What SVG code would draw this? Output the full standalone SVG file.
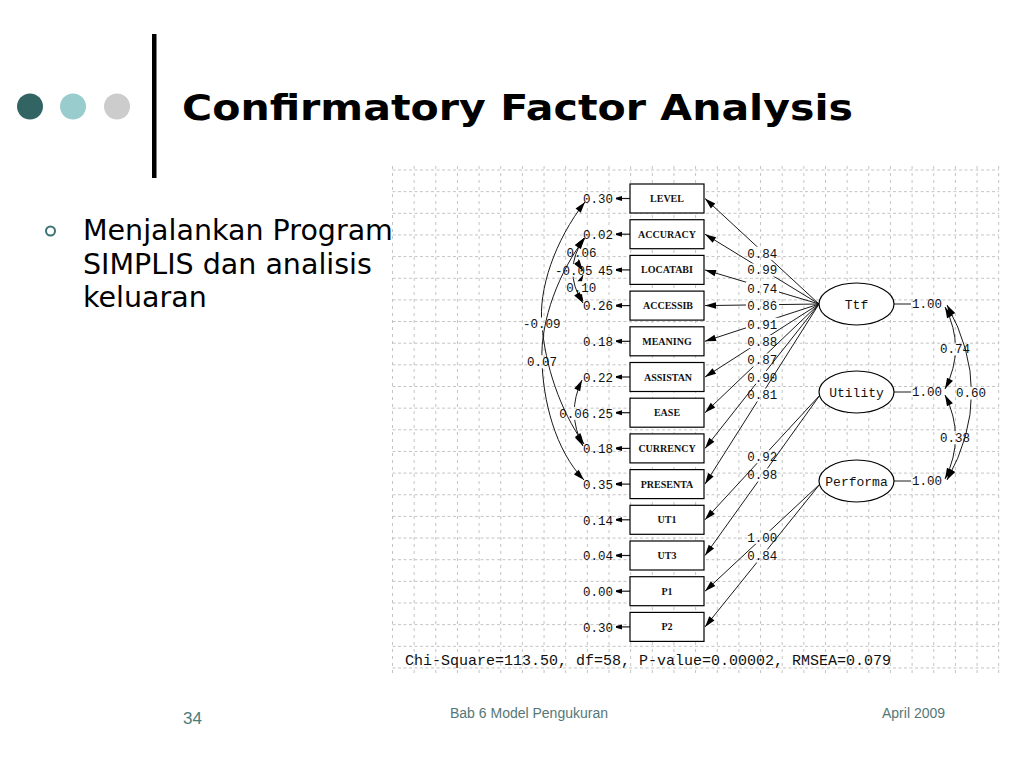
<svg xmlns="http://www.w3.org/2000/svg" xmlns:xlink="http://www.w3.org/1999/xlink" width="1024" height="768" viewBox="0 0 1024 768">
<style>
.gh{stroke:#c4c4c4;stroke-width:1;stroke-dasharray:3 2.5;fill:none}
.gv{stroke:#c4c4c4;stroke-width:1;stroke-dasharray:3 4;fill:none}
.box{fill:#fff;stroke:#000;stroke-width:1.2}
.ell{fill:#fff;stroke:#000;stroke-width:1.2}
.bt{font-family:"Liberation Serif",serif;font-size:10px;font-weight:bold;fill:#111;text-anchor:middle}
.et{font-family:"Liberation Mono",monospace;font-size:13px;fill:#111;text-anchor:middle}
.num{font-family:"Liberation Mono",monospace;font-size:12.5px;fill:#111}
.mid{text-anchor:middle}
.end{text-anchor:end}
.ln{stroke:#1a1a1a;stroke-width:1;fill:none}
.la{stroke:#1a1a1a;stroke-width:1;fill:none;marker-end:url(#ah)}
.cv{stroke:#1a1a1a;stroke-width:1;fill:none;marker-start:url(#ah);marker-end:url(#ah)}
.er{stroke:#1a1a1a;stroke-width:1.2;fill:none;marker-end:url(#as)}
.foot{font-family:"Liberation Sans",Arial,sans-serif;font-size:14px;fill:#557777}
</style>
<defs>
<marker id="ah" markerUnits="userSpaceOnUse" markerWidth="12" markerHeight="8" refX="11" refY="4" orient="auto-start-reverse" overflow="visible"><path d="M0,0.7 L11,4 L0,7.3 z" fill="#000"/></marker>
<marker id="as" markerUnits="userSpaceOnUse" markerWidth="7" markerHeight="6" refX="6" refY="3" orient="auto" overflow="visible"><path d="M0,0.5 L6,2.2 L6,3.8 L0,5.5 z" fill="#000"/></marker>
<rect id="full" width="1024" height="768" fill="#fff"/>
<mask id="mL0" maskUnits="userSpaceOnUse" x="0" y="0" width="1024" height="768"><use href="#full"/><rect x="746" y="246.8" width="33" height="13"/></mask>
<mask id="mL1" maskUnits="userSpaceOnUse" x="0" y="0" width="1024" height="768"><use href="#full"/><rect x="746" y="263.5" width="33" height="13"/></mask>
<mask id="mL2" maskUnits="userSpaceOnUse" x="0" y="0" width="1024" height="768"><use href="#full"/><rect x="746" y="281.8" width="33" height="13"/></mask>
<mask id="mL3" maskUnits="userSpaceOnUse" x="0" y="0" width="1024" height="768"><use href="#full"/><rect x="746" y="299.5" width="33" height="13"/></mask>
<mask id="mL4" maskUnits="userSpaceOnUse" x="0" y="0" width="1024" height="768"><use href="#full"/><rect x="746" y="317.8" width="33" height="13"/></mask>
<mask id="mL5" maskUnits="userSpaceOnUse" x="0" y="0" width="1024" height="768"><use href="#full"/><rect x="746" y="335.2" width="33" height="13"/></mask>
<mask id="mL6" maskUnits="userSpaceOnUse" x="0" y="0" width="1024" height="768"><use href="#full"/><rect x="746" y="353.5" width="33" height="13"/></mask>
<mask id="mL7" maskUnits="userSpaceOnUse" x="0" y="0" width="1024" height="768"><use href="#full"/><rect x="746" y="370.8" width="33" height="13"/></mask>
<mask id="mL8" maskUnits="userSpaceOnUse" x="0" y="0" width="1024" height="768"><use href="#full"/><rect x="746" y="388.5" width="33" height="13"/></mask>
<mask id="mL9" maskUnits="userSpaceOnUse" x="0" y="0" width="1024" height="768"><use href="#full"/><rect x="746" y="450.2" width="33" height="13"/></mask>
<mask id="mL10" maskUnits="userSpaceOnUse" x="0" y="0" width="1024" height="768"><use href="#full"/><rect x="746" y="468.5" width="33" height="13"/></mask>
<mask id="mL11" maskUnits="userSpaceOnUse" x="0" y="0" width="1024" height="768"><use href="#full"/><rect x="746" y="530.8" width="33" height="13"/></mask>
<mask id="mL12" maskUnits="userSpaceOnUse" x="0" y="0" width="1024" height="768"><use href="#full"/><rect x="746" y="549.5" width="33" height="13"/></mask>
<mask id="mC1" maskUnits="userSpaceOnUse" x="0" y="0" width="1024" height="768"><use href="#full"/><rect x="522" y="317.5" width="40" height="13"/></mask>
<mask id="mC2" maskUnits="userSpaceOnUse" x="0" y="0" width="1024" height="768"><use href="#full"/><rect x="526" y="355.2" width="32" height="13"/></mask>
<mask id="mC3" maskUnits="userSpaceOnUse" x="0" y="0" width="1024" height="768"><use href="#full"/><rect x="565.5" y="246.5" width="32" height="13"/></mask>
<mask id="mC4" maskUnits="userSpaceOnUse" x="0" y="0" width="1024" height="768"><use href="#full"/><rect x="554" y="263.8" width="40" height="13"/></mask>
<mask id="mC5" maskUnits="userSpaceOnUse" x="0" y="0" width="1024" height="768"><use href="#full"/><rect x="565.3" y="281.2" width="32" height="13"/></mask>
<mask id="mC6" maskUnits="userSpaceOnUse" x="0" y="0" width="1024" height="768"><use href="#full"/><rect x="558.3" y="406.9" width="32" height="13"/></mask>
<mask id="mR1" maskUnits="userSpaceOnUse" x="0" y="0" width="1024" height="768"><use href="#full"/><rect x="939" y="342.5" width="32" height="13"/></mask>
<mask id="mR2" maskUnits="userSpaceOnUse" x="0" y="0" width="1024" height="768"><use href="#full"/><rect x="939" y="431.2" width="32" height="13"/></mask>
<mask id="mR3" maskUnits="userSpaceOnUse" x="0" y="0" width="1024" height="768"><use href="#full"/><rect x="955" y="386.5" width="32" height="13"/></mask>
</defs>
<rect width="1024" height="768" fill="#fff"/>

<!-- slide header -->
<g id="header">
<circle cx="30" cy="106.5" r="13" fill="#336464"/>
<circle cx="73" cy="106.5" r="13" fill="#99cccc"/>
<circle cx="117" cy="106.5" r="13" fill="#cccccc"/>
<rect x="152" y="34" width="4.5" height="144" fill="#000"/>
<text x="182" y="120" font-family="Verdana,'DejaVu Sans',sans-serif" font-weight="bold" font-size="35" textLength="671" lengthAdjust="spacingAndGlyphs" fill="#000">Confirmatory Factor Analysis</text>
</g>
<g id="bullet">
<circle cx="50.5" cy="231" r="4.5" fill="none" stroke="#3d7373" stroke-width="2"/>
<g font-family="Verdana,'DejaVu Sans',sans-serif" font-size="28.5" fill="#000">
<text x="83" y="240">Menjalankan Program</text>
<text x="83" y="273.5">SIMPLIS dan analisis</text>
<text x="83" y="307">keluaran</text>
</g>
</g>

<!-- grid -->
<g id="grid">
<path class="gh" d="M392.5 170H999M392.5 191.65H999M392.5 213.3H999M392.5 234.95H999M392.5 256.6H999M392.5 278.25H999M392.5 299.9H999M392.5 321.55H999M392.5 343.2H999M392.5 364.85H999M392.5 386.5H999M392.5 408.15H999M392.5 429.8H999M392.5 451.45H999M392.5 473.1H999M392.5 494.75H999M392.5 516.4H999M392.5 538.05H999M392.5 559.7H999M392.5 581.35H999M392.5 603H999M392.5 624.65H999M392.5 646.3H999M392.5 667.95H999"/>
<path class="gv" d="M392.5 166V676M414.15 166V676M435.8 166V676M457.45 166V676M479.1 166V676M500.75 166V676M522.4 166V676M544.05 166V676M565.7 166V676M587.35 166V676M609 166V676M630.65 166V676M652.3 166V676M673.95 166V676M695.6 166V676M717.25 166V676M738.9 166V676M760.55 166V676M782.2 166V676M803.85 166V676M825.5 166V676M847.15 166V676M868.8 166V676M890.45 166V676M912.1 166V676M933.75 166V676M955.4 166V676M977.05 166V676M998.7 166V676"/>
</g>

<!-- connectors -->
<g id="connectors">
<!-- loadings -->
<path class="la" mask="url(#mL0)" d="M819 304L705 198.5"/>
<path class="la" mask="url(#mL1)" d="M819 304L705 234.2"/>
<path class="la" mask="url(#mL2)" d="M819 304L705 269.9"/>
<path class="la" mask="url(#mL3)" d="M819 304L705 305.6"/>
<path class="la" mask="url(#mL4)" d="M819 304L705 341.3"/>
<path class="la" mask="url(#mL5)" d="M819 304L705 377"/>
<path class="la" mask="url(#mL6)" d="M819 304L705 412.7"/>
<path class="la" mask="url(#mL7)" d="M819 304L705 448.4"/>
<path class="la" mask="url(#mL8)" d="M819 304L705 484.1"/>
<path class="la" mask="url(#mL9)" d="M820 395L705 519.8"/>
<path class="la" mask="url(#mL10)" d="M820 395L705 555.5"/>
<path class="la" mask="url(#mL11)" d="M820 484L705 591.2"/>
<path class="la" mask="url(#mL12)" d="M820 484L705 626.9"/>
<!-- error arrows -->
<path class="er" d="M630 198.5H616"/>
<path class="er" d="M630 234.2H616"/>
<path class="er" d="M630 269.9H616"/>
<path class="er" d="M630 305.6H616"/>
<path class="er" d="M630 341.3H616"/>
<path class="er" d="M630 377H616"/>
<path class="er" d="M630 412.7H616"/>
<path class="er" d="M630 448.4H616"/>
<path class="er" d="M630 484.1H616"/>
<path class="er" d="M630 519.8H616"/>
<path class="er" d="M630 555.5H616"/>
<path class="er" d="M630 591.2H616"/>
<path class="er" d="M630 626.9H616"/>
<!-- error covariances -->
<path class="cv" mask="url(#mC1)" d="M585 202C555 240 538 290 542 325C545 365 560 410 584 444"/>
<path class="cv" mask="url(#mC2)" d="M585 238C560 270 540 320 542 361C543 400 555 450 584 480"/>
<path class="cv" mask="url(#mC3)" d="M584 238Q572 255 583 271"/>
<path class="cv" mask="url(#mC4)" d="M584 238Q562 271 583 303"/>
<path class="cv" mask="url(#mC5)" d="M583 275Q577 288 583 301"/>
<path class="cv" mask="url(#mC6)" d="M582 380Q566 413 583 446"/>
<!-- latent variances and covariances -->
<path class="ln" d="M894 304H911M894 392H911M894 481H911"/>
<path class="cv" mask="url(#mR1)" d="M945 307Q966 348 945 389"/>
<path class="cv" mask="url(#mR2)" d="M945 395Q966 437 945 479"/>
<path class="cv" mask="url(#mR3)" d="M947 305Q996 393 947 480"/>
</g>

<!-- observed variables -->
<g id="n-LEVEL"><rect class="box" x="630" y="184" width="74" height="29"/><text class="bt" x="667" y="202">LEVEL</text></g>
<g id="n-ACCURACY"><rect class="box" x="630" y="219.7" width="74" height="29"/><text class="bt" x="667" y="237.7">ACCURACY</text></g>
<g id="n-LOCATABI"><rect class="box" x="630" y="255.4" width="74" height="29"/><text class="bt" x="667" y="273.4">LOCATABI</text></g>
<g id="n-ACCESSIB"><rect class="box" x="630" y="291.1" width="74" height="29"/><text class="bt" x="668" y="309.1">ACCESSIB</text></g>
<g id="n-MEANING"><rect class="box" x="630" y="326.8" width="74" height="29"/><text class="bt" x="667" y="344.8">MEANING</text></g>
<g id="n-ASSISTAN"><rect class="box" x="630" y="362.5" width="74" height="29"/><text class="bt" x="668" y="380.5">ASSISTAN</text></g>
<g id="n-EASE"><rect class="box" x="630" y="398.2" width="74" height="29"/><text class="bt" x="667" y="416.2">EASE</text></g>
<g id="n-CURRENCY"><rect class="box" x="630" y="433.9" width="74" height="29"/><text class="bt" x="667" y="451.9">CURRENCY</text></g>
<g id="n-PRESENTA"><rect class="box" x="630" y="469.6" width="74" height="29"/><text class="bt" x="667" y="487.6">PRESENTA</text></g>
<g id="n-UT1"><rect class="box" x="630" y="505.3" width="74" height="29"/><text class="bt" x="667" y="523.3">UT1</text></g>
<g id="n-UT3"><rect class="box" x="630" y="541" width="74" height="29"/><text class="bt" x="667" y="559">UT3</text></g>
<g id="n-P1"><rect class="box" x="630" y="576.7" width="74" height="29"/><text class="bt" x="667" y="594.7">P1</text></g>
<g id="n-P2"><rect class="box" x="630" y="612.4" width="74" height="29"/><text class="bt" x="667" y="630.4">P2</text></g>

<!-- latent variables -->
<g id="n-Ttf"><ellipse class="ell" cx="856.5" cy="304" rx="37.5" ry="21"/><text class="et" x="856.5" y="308.5">Ttf</text></g>
<g id="n-Utility"><ellipse class="ell" cx="856.5" cy="392" rx="37.5" ry="21"/><text class="et" x="856.5" y="396.5">Utility</text></g>
<g id="n-Performa"><ellipse class="ell" cx="856.5" cy="481" rx="37.5" ry="21"/><text class="et" x="856.5" y="485.5">Performa</text></g>

<!-- labels -->
<g id="labels" class="num">
<g class="end">
<text x="613" y="203.2">0.30</text>
<text x="613" y="238.9">0.02</text>
<text x="613" y="274.6">45</text>
<text x="613" y="310.3">0.26</text>
<text x="613" y="346">0.18</text>
<text x="613" y="381.7">0.22</text>
<text x="613" y="417.6">.25</text>
<text x="613" y="453.1">0.18</text>
<text x="613" y="488.8">0.35</text>
<text x="613" y="524.5">0.14</text>
<text x="613" y="560.2">0.04</text>
<text x="613" y="595.9">0.00</text>
<text x="613" y="631.6">0.30</text>
</g>
<g class="mid">
<text x="762.3" y="257.5">0.84</text>
<text x="762.3" y="274.2">0.99</text>
<text x="762.3" y="292.5">0.74</text>
<text x="762.3" y="310.2">0.86</text>
<text x="762.3" y="328.5">0.91</text>
<text x="762.3" y="345.9">0.88</text>
<text x="762.3" y="364.2">0.87</text>
<text x="762.3" y="381.5">0.90</text>
<text x="762.3" y="399.2">0.81</text>
<text x="762.3" y="460.9">0.92</text>
<text x="762.3" y="479.2">0.98</text>
<text x="762.3" y="541.5">1.00</text>
<text x="762.3" y="560.2">0.84</text>
<text x="581.5" y="257.2">0.06</text>
<text x="581.3" y="291.9">0.10</text>
<text x="541.7" y="328.2">-0.09</text>
<text x="542" y="365.9">0.07</text>
<text x="955" y="353.2">0.74</text>
<text x="955" y="441.9">0.38</text>
<text x="971" y="397.2">0.60</text>
</g>
<text x="555" y="274.5">-0.05</text>
<text x="559.3" y="417.6">0.06</text>
<text x="912" y="308.2">1.00</text>
<text x="912" y="396.2">1.00</text>
<text x="912" y="485.2">1.00</text>
<text x="405" y="665" font-size="15">Chi-Square=113.50, df=58, P-value=0.00002, RMSEA=0.079</text>
</g>

<!-- footer -->
<g id="footer">
<text x="183" y="724" font-family="'Liberation Sans',Arial,sans-serif" font-size="17" fill="#4a7c7c">34</text>
<text class="foot" x="450" y="718">Bab 6 Model Pengukuran</text>
<text class="foot" x="882" y="718">April 2009</text>
</g>
</svg>
